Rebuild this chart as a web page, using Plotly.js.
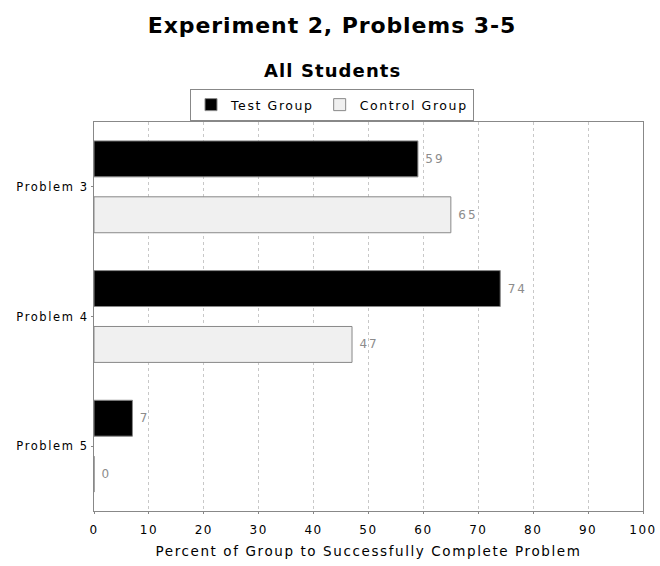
<!DOCTYPE html>
<html><head><meta charset="utf-8">
<script src="https://cdn.plot.ly/plotly-3.0.1.min.js"></script>
<style>
body{margin:0;background:#fff}
#chart{width:660px;height:566px}
.gtitle{letter-spacing:0.9px}
.annotation-text{letter-spacing:1.1px}
.legendtext{letter-spacing:1.6px}
.ytick text{letter-spacing:1.6px}
.xtick text{letter-spacing:1.5px}
.xtitle{letter-spacing:1.6px}
.bartext{letter-spacing:2px}
</style>
</head><body><div id="chart"></div>
<script>
const categories = ["Problem 3", "Problem 4", "Problem 5"];
const testGroup = [59, 74, 7];
const controlGroup = [65, 47, 0];
const seriesNames = ["Test Group", "Control Group"];
const xTicks = [0,10,20,30,40,50,60,70,80,90,100];

const font = "DejaVu Sans, Verdana, sans-serif";
const traces = [
  {type:"bar", orientation:"h", name:seriesNames[0], y:categories, x:testGroup,
   marker:{color:"#000000", line:{color:"#888888", width:1}},
   texttemplate:"\u2009%{x}", textposition:"outside", cliponaxis:false,
   textfont:{family:font, size:12, color:"#8c8c8c"}},
  {type:"bar", orientation:"h", name:seriesNames[1], y:categories, x:controlGroup,
   marker:{color:"#f0f0f0", line:{color:"#888888", width:1}},
   texttemplate:"\u2009%{x}", textposition:"outside", cliponaxis:false,
   textfont:{family:font, size:12, color:"#8c8c8c"}}
];
const layout = {
  width:660, height:566,
  margin:{l:94, r:17, t:122, b:55},
  paper_bgcolor:"#fff", plot_bgcolor:"#fff",
  font:{family:font, color:"#000"},
  barmode:"group", bargap:0.138, bargroupgap:0.357,
  title:{text:"<b>Experiment 2, Problems 3-5</b>", x:332/660, xanchor:"center", xref:"container",
         y:1-25/566, yref:"container", yanchor:"middle", font:{family:font, size:22, color:"#000"}},
  annotations:[{text:"<b>All Students</b>", xref:"paper", yref:"paper", x:(332-94)/549, y:1+(122-71)/389,
    xanchor:"center", yanchor:"middle", showarrow:false, font:{family:font, size:18, color:"#000"}}],
  legend:{orientation:"h", x:(332-94)/549, xanchor:"center", y:1+(122-105)/389, yanchor:"middle",
    bordercolor:"#888", borderwidth:1, font:{family:font, size:12.5, color:"#000"},
    traceorder:"normal", itemwidth:30, tracegroupgap:0},
  xaxis:{range:[0,100], tickvals:xTicks, showgrid:true, gridcolor:"#c8c8c8", griddash:"dot",
    zeroline:false, showline:true, linecolor:"#888", mirror:true, ticks:"outside", ticklen:2, tickcolor:"#888",
    ticklabelstandoff:6,
    tickfont:{family:font, size:12, color:"#000"},
    title:{text:"Percent of Group to Successfully Complete Problem", font:{family:font, size:13.5, color:"#000"}, standoff:10},
    fixedrange:true},
  yaxis:{autorange:"reversed", showgrid:false, zeroline:false, showline:true, linecolor:"#888", mirror:true,
    ticks:"outside", ticklen:2, tickcolor:"#888",
    tickfont:{family:font, size:11.5, color:"#000"}, fixedrange:true}
};
Plotly.newPlot("chart", traces, layout, {displayModeBar:false, staticPlot:true});
</script></body></html>
